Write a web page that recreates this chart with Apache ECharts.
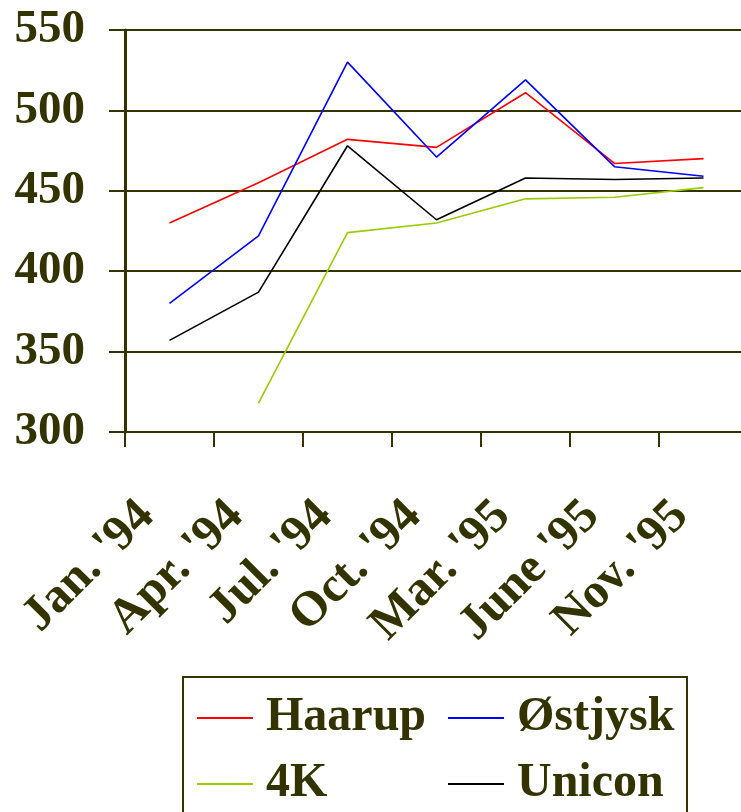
<!DOCTYPE html>
<html>
<head>
<meta charset="utf-8">
<script src="https://cdn.jsdelivr.net/npm/echarts@6/dist/echarts.min.js"></script>
<style>
html,body{margin:0;padding:0;background:#fff;}
#chart{width:741px;height:812px;}
</style>
</head>
<body>
<div id="chart"></div>
<script>
var categories = ["Jan. '94", "Apr. '94", "Jul. '94", "Oct. '94", "Mar. '95", "June '95", "Nov. '95"];
var haarup = [430, 455, 482, 477, 511, 467, 470];
var ostjysk = [380, 422, 530, 471, 519, 465, 459];
var k4 = [null, 318, 424, 430, 445, 446, 452];
var unicon = [357, 387, 478, 432, 458, 457, 458];
var yTicks = [300, 350, 400, 450, 500, 550];
var legendRow1 = ['Haarup', 'Østjysk'];
var legendRow2 = ['4K', 'Unicon'];

var ink = '#333300';
var font = '"Liberation Serif", "Times New Roman", serif';

var chart = echarts.init(document.getElementById('chart'), null, {renderer: 'canvas'});

function mk(name, data, color) {
  return {
    name: name, type: 'line', data: data, symbol: 'none',
    lineStyle: {color: color, width: 1.6}, itemStyle: {color: color},
    connectNulls: false, animation: false
  };
}

function leg(names, top) {
  return {
    left: 197, top: top, orient: 'horizontal', padding: 0,
    icon: 'rect', itemWidth: 56, itemHeight: 2, itemGap: 22,
    data: names,
    textStyle: {color: ink, fontFamily: font, fontWeight: 'bold', fontSize: 48, lineHeight: 44, width: 160, padding: [0, 0, 0, 8]}
  };
}

chart.setOption({
  animation: false,
  backgroundColor: '#ffffff',
  grid: {left: 125, top: 30, width: 623, height: 402, containLabel: false, outerBoundsMode: 'none'},
  graphic: [{
    type: 'rect',
    shape: {x: 183, y: 677, width: 504, height: 160},
    style: {fill: 'none', stroke: ink, lineWidth: 2}, silent: true
  }],
  xAxis: {
    type: 'category', data: categories, boundaryGap: true,
    axisLine: {show: true, lineStyle: {color: ink, width: 2}},
    axisTick: {show: true, length: 15, lineStyle: {color: ink, width: 2}},
    axisLabel: {
      rotate: 45, margin: 54, interval: 0, padding: [0, 32, 0, 0],
      color: ink, fontFamily: font, fontWeight: 'bold', fontSize: 49
    },
    splitLine: {show: false}
  },
  yAxis: {
    type: 'value', min: yTicks[0], max: yTicks[yTicks.length - 1], interval: 50,
    axisLine: {show: true, lineStyle: {color: ink, width: 3}},
    axisTick: {show: true, length: 16, lineStyle: {color: ink, width: 2}},
    axisLabel: {
      margin: 40, color: ink, fontFamily: font, fontWeight: 'bold', fontSize: 47
    },
    splitLine: {show: true, lineStyle: {color: ink, width: 2}}
  },
  legend: [leg(legendRow1, 694), leg(legendRow2, 760)],
  series: [
    mk('Haarup', haarup, '#ff0000'),
    mk('Østjysk', ostjysk, '#0000ff'),
    mk('4K', k4, '#99cc00'),
    mk('Unicon', unicon, '#000000')
  ]
});
</script>
</body>
</html>
